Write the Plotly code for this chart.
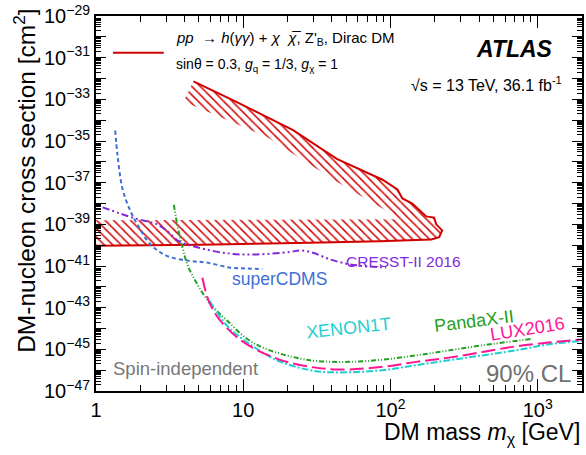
import numpy as np
import plotly.graph_objects as go

# ---- data ----
# ATLAS h(gamma gamma)+MET limit contour (solid red line)
lim_mass = [4.59, 8.56, 21.8, 43.2, 88.3, 111.5, 120.5, 140.8, 175, 198, 204.5, 224.5,
            214.3, 189, 84.3, 28.4, 5.12, 1.0]
lim_xsec = [7.24e-33, 8.9e-34, 3.3e-35, 1.38e-36, 1.38e-37, 4.7e-38, 1.74e-38, 1.0e-38,
            2.4e-39, 2.1e-39, 1.0e-39, 5.1e-40, 2.4e-40, 1.86e-40, 1.55e-40, 1.29e-40,
            1.05e-40, 9.5e-41]
# inner edge of the hatched (excluded-side) band, from x=1 back up to the top-left
hatch_in_mass = [1.0, 115, 88.3, 43.2, 14.5, 3.93]
hatch_in_xsec = [1.55e-39, 1.74e-39, 5.75e-39, 1.12e-37, 1.55e-35, 7.9e-34]

cdms_mass = [1.35, 1.40, 1.51, 1.68, 1.91, 2.35, 3.05, 4.38, 5.69, 8.17, 10.5, 13.5]
cdms_xsec = [3.2e-35, 2.1e-36, 5.4e-38, 6.0e-39, 9.8e-40, 1.07e-40, 3.0e-41, 1.74e-41,
             1.45e-41, 8.3e-42, 7.6e-42, 7.1e-42]

cresst_mass = [1.11, 1.81, 2.61, 3.05, 3.65, 4.87, 8.17, 12.4, 20.8, 24.3, 29.7, 38.7,
               50.2, 64.7, 93.5]
cresst_xsec = [6.5e-39, 2.0e-39, 9.8e-40, 4.7e-40, 1.55e-40, 7.9e-41, 3.9e-41, 3.6e-41,
               4.7e-41, 5.6e-41, 4.3e-41, 2.1e-41, 1.29e-41, 1.0e-41, 8.5e-42]

panda_mass = [3.38, 3.60, 3.85, 4.17, 4.87, 5.98, 7.76, 10.6, 14.5, 24.3, 31.5, 52.8,
              88.7, 149, 250, 421, 915]
panda_xsec = [8.7e-39, 6.6e-40, 8.9e-41, 1.2e-41, 1.35e-42, 1.5e-43, 2.4e-44, 3.2e-45,
              1.0e-45, 3.6e-46, 2.75e-46, 2.5e-46, 3.2e-46, 5.1e-46, 8.9e-46, 1.55e-45,
              3.2e-45]

lux_mass = [5.28, 5.83, 6.99, 10.05, 16.9, 28.4, 45.2, 88.7, 149, 250, 421, 706, 1186, 2000]
lux_xsec = [2.75e-42, 2.1e-43, 2.4e-44, 2.2e-45, 3.6e-46, 1.45e-46, 1.07e-46, 1.45e-46,
            2.5e-46, 4.0e-46, 7.4e-46, 1.38e-45, 2.1e-45, 3.0e-45]

xenon_mass = [5.92, 7.76, 10.6, 16.9, 28.4, 43.0, 88.7, 149, 250, 421, 706, 1186, 2000]
xenon_xsec = [2.1e-43, 1.38e-44, 2.2e-45, 3.0e-46, 1.0e-46, 7.8e-47, 1.0e-46, 1.74e-46,
              3.0e-46, 5.1e-46, 8.9e-46, 1.74e-45, 2.5e-45]

x_tick_vals = [1, 10, 100, 1000]
x_tick_text = ["1", "10", "10<sup>2</sup>", "10<sup>3</sup>"]
y_decades = list(range(-47, -28))

RED = "#d10000"
FONT = "Liberation Sans"

fig = go.Figure()

# hatched band
fig.add_trace(go.Scatter(
    x=lim_mass + hatch_in_mass, y=lim_xsec + hatch_in_xsec,
    mode="lines", fill="toself", line=dict(width=0, color="rgba(0,0,0,0)"),
    fillcolor="rgba(0,0,0,0)",
    fillpattern=dict(shape="\\", fgcolor=RED, bgcolor="rgba(0,0,0,0)",
                     size=6, solidity=0.25, fillmode="replace"),
    hoverinfo="skip", showlegend=False))

fig.add_trace(go.Scatter(x=lim_mass, y=lim_xsec, mode="lines",
                         line=dict(color=RED, width=2), showlegend=False))

fig.add_trace(go.Scatter(x=cdms_mass, y=cdms_xsec, mode="lines",
                         line=dict(color="#3d6fd6", width=2, dash="4px,3px"),
                         line_shape="spline", showlegend=False))
fig.add_trace(go.Scatter(x=cresst_mass, y=cresst_xsec, mode="lines",
                         line=dict(color="#8228dc", width=2,
                                   dash="7px,3px,2px,3px,2px,3px"),
                         line_shape="spline", showlegend=False))
fig.add_trace(go.Scatter(x=panda_mass, y=panda_xsec, mode="lines",
                         line=dict(color="#22a022", width=2,
                                   dash="5px,2px,1px,2px,1px,2px"),
                         line_shape="spline", showlegend=False))
fig.add_trace(go.Scatter(x=xenon_mass, y=xenon_xsec, mode="lines",
                         line=dict(color="#1fcfcf", width=2, dash="7px,2px,2px,2px"),
                         line_shape="spline", showlegend=False))
fig.add_trace(go.Scatter(x=lux_mass, y=lux_xsec, mode="lines",
                         line=dict(color="#ff1493", width=2, dash="14px,5px"),
                         line_shape="spline", showlegend=False))

# axis tick positions (not data)
x_minor = [k * 10 ** n for n in range(0, 4) for k in range(2, 10) if k * 10 ** n <= 2000]
y_minor = [k * 10.0 ** n for n in range(-47, -29) for k in range(2, 10)]
y_tick_vals = [10.0 ** d for d in y_decades]
y_tick_text = [("10<sup>\u2212%d</sup>" % (-d)) if d % 2 != 0 else "" for d in y_decades]

axis_common = dict(showline=True, linewidth=2, linecolor="black", mirror="allticks",
                   ticks="inside", tickcolor="black", showgrid=False, zeroline=False,
                   ticklabeloverflow="allow",
                   tickfont=dict(size=20, family=FONT, color="black"))

fig.update_xaxes(type="log", range=[0, np.log10(2000)], tickmode="array",
                 tickvals=x_tick_vals, ticktext=x_tick_text, ticklen=12, tickwidth=1,
                 minor=dict(tickmode="array", tickvals=x_minor, ticks="inside",
                            ticklen=6, tickcolor="black", tickwidth=1),
                 **axis_common)
fig.update_yaxes(type="log", range=[-47.0005, -28.9995], tickmode="array",
                 tickvals=y_tick_vals, ticktext=y_tick_text, ticklen=10, tickwidth=1,
                 minor=dict(tickmode="array", tickvals=y_minor, ticks="inside",
                            ticklen=5, tickcolor="black", tickwidth=1),
                 **axis_common)

def px2paper(px, py):
    return (px - 96) / 488.0, (391 - py) / 378.0

annotations = []
def ann(text, px, py, size, color="black", xanchor="center", yanchor="middle",
        angle=0, **kw):
    x, y = px2paper(px, py)
    annotations.append(dict(text=text, x=x, y=y, xref="paper", yref="paper",
                            xanchor=xanchor, yanchor=yanchor, showarrow=False,
                            textangle=angle,
                            font=dict(size=size, color=color, family=FONT), **kw))

ann("DM-nucleon cross section [cm<sup>2</sup>]", 24, 3, 24.5, xanchor="center",
    yanchor="top", angle=-90)
ann("DM mass <i>m</i><sub>\u03c7</sub> [GeV]", 584, 434, 23, xanchor="right")

ann("<i>pp</i> \u00a0\u2192 <i>h</i>(<i>\u03b3\u03b3</i>) + <i>\u03c7</i> \u00a0<i>\u03c7\u0305</i>, Z'<sub>B</sub>, Dirac DM",
    174, 36, 15, xanchor="left")
ann("sin\u03b8 = 0.3, <i>g</i><sub>q</sub> = 1/3, <i>g</i><sub>\u03c7</sub> = 1",
    174, 62, 14, xanchor="left")
ann("<b><i>ATLAS</i></b>", 557, 46, 23, xanchor="right")
ann("\u221as = 13 TeV, 36.1 fb<sup>-1</sup>", 566, 82, 16, xanchor="right")

ann("CRESST-II 2016", 405, 260, 15.5, color="#8228dc")
ann("superCDMS", 280, 278, 17.5, color="#3d6fd6")
ann("XENON1T", 350, 327, 18, color="#1fcfcf", angle=-6)
ann("PandaX-II", 476, 320, 18, color="#22a022", angle=-7)
ann("LUX2016", 529, 329, 18, color="#ff1493", angle=-9)
ann("Spin-independent", 186, 368, 18.5, color="#777777")
ann("90% CL", 530, 373, 24, color="#707070")

fig.update_layout(
    width=586, height=455,
    margin=dict(l=96, r=2, t=13, b=64),
    paper_bgcolor="white", plot_bgcolor="white",
    showlegend=False,
    annotations=annotations,
    shapes=[dict(type="line", xref="paper", yref="paper",
                 x0=px2paper(113, 50)[0], x1=px2paper(164, 50)[0],
                 y0=px2paper(113, 50)[1], y1=px2paper(113, 50)[1],
                 line=dict(color=RED, width=2))],
    font=dict(family=FONT),
)

fig.write_html("out.html", config={"displayModeBar": False},
               post_script="document.body.style.margin='0px';")
